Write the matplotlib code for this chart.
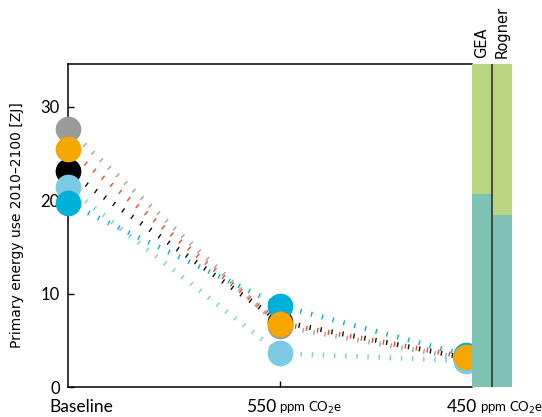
import matplotlib
matplotlib.use("Agg")
import matplotlib.pyplot as plt

# ---- data ----
scenarios = ["Baseline", "550", "450"]
x_pos = [0, 1, 1.88]
series_names = ["grey", "black", "lightblue", "blue", "orange"]
values = {
    "grey":      [27.6, 6.5, 3.0],
    "black":     [23.1, 7.0, 3.1],
    "lightblue": [21.4, 3.6, 2.8],
    "blue":      [19.7, 8.7, 3.4],
    "orange":    [25.5, 6.8, 3.2],
}
marker_colors = {"grey": "#9b9b9b", "black": "#000000", "lightblue": "#7ccae4",
                 "blue": "#00b0d6", "orange": "#f5a700"}
line_colors = {"grey": "#a3a3a3", "black": "#111111", "lightblue": "#7ccae4",
               "blue": "#10acd6", "orange": "#e8502c"}
bar_names = ["GEA", "Rogner"]
bar_lower = [20.7, 18.4]
yticks = [0, 10, 20, 30]
ymax = 34.6

W, H = 542, 417
fig = plt.figure(figsize=(W / 100, H / 100), dpi=100)
ax = fig.add_axes([68 / W, (417 - 387) / H, 404 / W, 323 / H])
axb = fig.add_axes([472 / W, (417 - 387) / H, 40 / W, 323 / H], zorder=5)

for name in series_names:
    ax.plot(x_pos, values[name], color=line_colors[name], lw=3.6,
            linestyle=(0, (0.28, 1.95)), zorder=2, clip_on=False)
for name in series_names:
    ax.plot(x_pos, values[name], linestyle="none", marker="o", markersize=18.5,
            markeredgewidth=0, color=marker_colors[name], zorder=3, clip_on=False)

ax.set_xlim(0, 1.906)
ax.set_ylim(0, ymax)
ax.set_yticks(yticks)
ax.set_yticklabels([str(t) for t in yticks], fontsize=12, family="Lato")
ax.set_xticks([1])
ax.set_xticklabels([""])
ax.tick_params(direction="in", length=4, width=1, pad=6)
ax.spines["right"].set_visible(False)
for s in ["left", "top", "bottom"]:
    ax.spines[s].set_linewidth(1.1)
ax.set_ylabel("Primary energy use 2010–2100 [ZJ]", fontsize=10, family="DejaVu Sans",
              labelpad=12)

# x labels
def xlab(x, big, dx_big):
    ax.annotate(big, xy=(x, 0), xycoords=("data", "axes fraction"),
                xytext=(dx_big, -18), textcoords="offset points",
                ha="right", va="baseline", fontsize=12.5, family="Lato")
    ax.annotate("ppm CO$_2$e", xy=(x, 0), xycoords=("data", "axes fraction"),
                xytext=(dx_big + 2.0, -18), textcoords="offset points",
                ha="left", va="baseline", fontsize=9.5, family="Lato")

ax.annotate("Baseline", xy=(0, 0), xycoords=("data", "axes fraction"),
            xytext=(9.5, -18), textcoords="offset points",
            ha="center", va="baseline", fontsize=12.5, family="Lato")
xlab(1, "550", -2.5)
xlab(1.906, "450", 3.5)

# bars
axb.bar([0.5, 1.5], bar_lower, width=1, color="#7ec2b4", linewidth=0)
axb.bar([0.5, 1.5], [ymax - v for v in bar_lower], bottom=bar_lower, width=1,
        color="#b8d680", linewidth=0)
axb.axvline(1, color="#333333", lw=1.2)
axb.set_xlim(0, 2)
axb.set_ylim(0, ymax)
axb.axis("off")
for i, n in enumerate(bar_names):
    axb.text(i + 0.5, 1.02, n, transform=axb.get_xaxis_transform(), rotation=90,
             ha="center", va="bottom", fontsize=10.5, family="DejaVu Sans")

fig.savefig("out.png", dpi=100)
